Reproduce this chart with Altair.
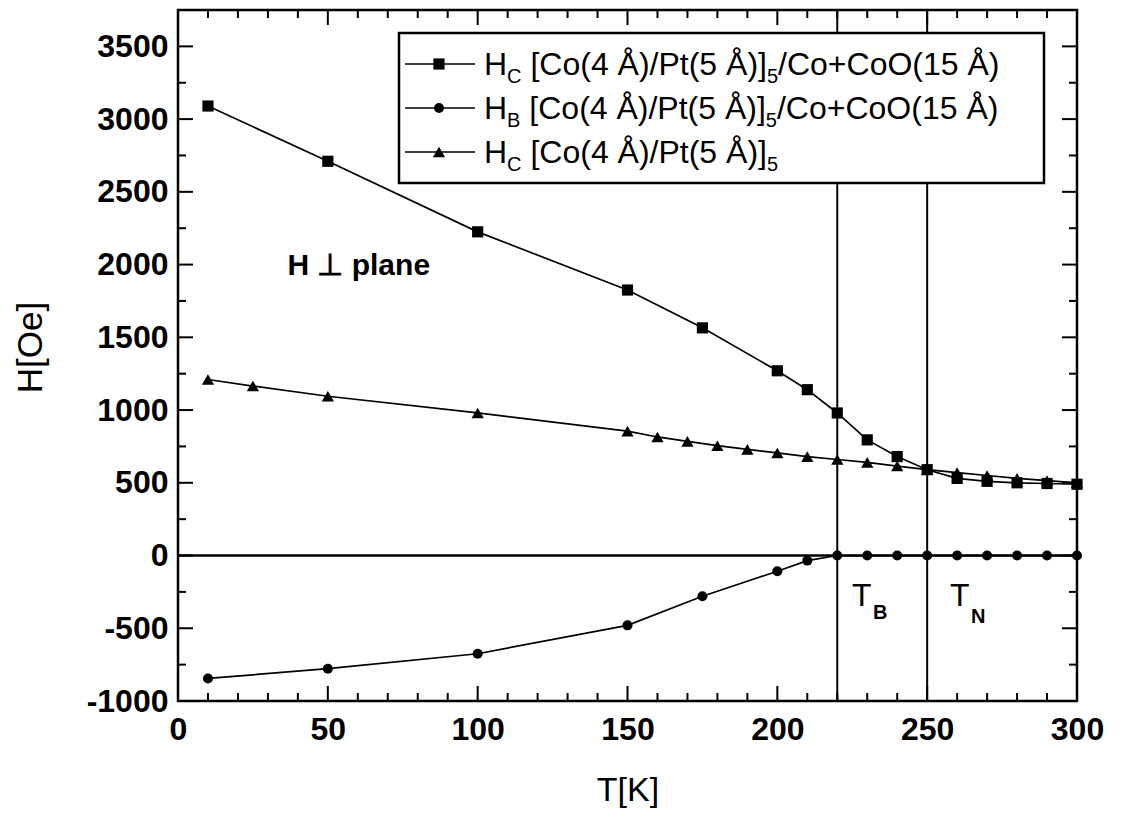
import altair as alt
import pandas as pd

# ---------------- data ----------------
T_HC_COO = [10, 50, 100, 150, 175, 200, 210, 220, 230, 240, 250, 260, 270, 280, 290, 300]
H_HC_COO = [3090, 2710, 2225, 1825, 1565, 1270, 1140, 980, 795, 680, 590, 530, 510, 500, 495, 490]

T_HB_COO = [10, 50, 100, 150, 175, 200, 210, 220, 230, 240, 250, 260, 270, 280, 290, 300]
H_HB_COO = [-845, -778, -675, -480, -280, -108, -35, 0, 0, 0, 0, 0, 0, 0, 0, 0]

T_HC_ML = [10, 25, 50, 100, 150, 160, 170, 180, 190, 200, 210, 220, 230, 240, 250, 260, 270, 280, 290, 300]
H_HC_ML = [1210, 1165, 1095, 980, 855, 815, 785, 755, 730, 705, 680, 660, 640, 615, 590, 570, 550, 530, 515, 500]

T_MARKERS = [220, 250]          # T_B and T_N vertical lines

X_LABELS = [0, 50, 100, 150, 200, 250, 300]
X_MINOR = [10, 20, 30, 40, 60, 70, 80, 90, 110, 120, 130, 140, 160, 170, 180, 190,
           210, 220, 230, 240, 260, 270, 280, 290]
Y_LABELS = [-1000, -500, 0, 500, 1000, 1500, 2000, 2500, 3000, 3500]
Y_MINOR = [-750, -250, 250, 750, 1250, 1750, 2250, 2750, 3250]

# ---------------- layout ----------------
W, HGT = 899, 691
FONT = "Liberation Sans"
MAJ, MIN = 15, 8

xs = alt.Scale(domain=[0, 300], nice=False, zero=False)
ys = alt.Scale(domain=[-1000, 3750], nice=False, zero=False)

x_axis = alt.Axis(values=X_LABELS, title="T[K]", ticks=False, domain=False, grid=False,
                  labelFlush=False, labelFont=FONT, labelFontSize=32, labelFontWeight="bold",
                  labelColor="black", labelPadding=13, titleFont=FONT, titleFontSize=34,
                  titleFontWeight="normal", titleColor="black", titleY=89,
                  titleBaseline="middle", labelExpr="toString(datum.value)")
y_axis = alt.Axis(values=Y_LABELS, title="H[Oe]", ticks=False, domain=False, grid=False,
                  labelFlush=False, labelFont=FONT, labelFontSize=32, labelFontWeight="bold",
                  labelColor="black", labelPadding=10, titleFont=FONT, titleFontSize=35,
                  titleFontWeight="normal", titleColor="black", titleX=-148, titleY=337,
                  titleBaseline="middle", titleAlign="center", labelExpr="toString(datum.value)")


def xe(f="T"):
    return alt.X(f"{f}:Q", scale=xs, axis=x_axis)


def ye(f="H"):
    return alt.Y(f"{f}:Q", scale=ys, axis=y_axis)


layers = []

# zero line and T_B / T_N lines
layers.append(alt.Chart(pd.DataFrame({"H": [0]})).mark_rule(color="black", strokeWidth=2.5)
              .encode(y=ye()))
layers.append(alt.Chart(pd.DataFrame({"T": T_MARKERS})).mark_rule(color="black", strokeWidth=2)
              .encode(x=xe()))

# series
SQ, CI, TR = 125, 100, 150
series = [
    (T_HC_COO, H_HC_COO, "square", SQ),
    (T_HB_COO, H_HB_COO, "circle", CI),
    (T_HC_ML, H_HC_ML, "triangle-up", TR),
]
for T, Hv, shape, size in series:
    d = pd.DataFrame({"T": T, "H": Hv})
    base = alt.Chart(d)
    layers.append(base.mark_line(color="black", strokeWidth=1.7).encode(x=xe(), y=ye()))
    layers.append(base.mark_point(shape=shape, size=size, filled=True, color="black", opacity=1)
                  .encode(x=xe(), y=ye()))

# inward ticks on all four sides
for vals, ln in ((X_LABELS, MAJ), (X_MINOR, MIN)):
    d = alt.Chart(pd.DataFrame({"T": vals}))
    layers.append(d.mark_rule(color="black", strokeWidth=2)
                  .encode(x=xe(), y=alt.value(HGT), y2=alt.value(HGT - ln)))
    layers.append(d.mark_rule(color="black", strokeWidth=2)
                  .encode(x=xe(), y=alt.value(0), y2=alt.value(ln)))
for vals, ln in ((Y_LABELS, MAJ), (Y_MINOR, MIN)):
    d = alt.Chart(pd.DataFrame({"H": vals}))
    layers.append(d.mark_rule(color="black", strokeWidth=2)
                  .encode(y=ye(), x=alt.value(0), x2=alt.value(ln)))
    layers.append(d.mark_rule(color="black", strokeWidth=2)
                  .encode(y=ye(), x=alt.value(W), x2=alt.value(W - ln)))

one = pd.DataFrame({"a": [0]})

# legend box
layers.append(alt.Chart(one).mark_rect(fill="white", stroke="black", strokeWidth=2.5)
              .encode(x=alt.value(221), x2=alt.value(866), y=alt.value(23), y2=alt.value(173)))

# Arial / Liberation Sans advance widths (per 1000 em)
AW = {" ": 278, "(": 333, ")": 333, "+": 584, "/": 278, "[": 278, "]": 278, "Å": 667,
      "A": 667, "B": 667, "C": 722, "H": 722, "N": 722, "O": 778, "P": 667, "T": 611,
      "e": 556, "o": 556, "t": 278}


def tw(s, size):
    return sum(AW.get(c, 556) for c in s) * size / 1000.0


FS, SFS = 32, 20
rows = [
    ("square", SQ, [("H", 0, 0), ("C", 1, 0), ("[Co(4 Å)/Pt(5 Å)]", 0, 1), ("5", 1, 0), ("/Co+CoO(15 Å)", 0, 0)]),
    ("circle", CI, [("H", 0, 0), ("B", 1, 0), ("[Co(4 Å)/Pt(5 Å)]", 0, 1), ("5", 1, 0), ("/Co+CoO(15 Å)", 0, 0)]),
    ("triangle-up", TR, [("H", 0, 0), ("C", 1, 0), ("[Co(4 Å)/Pt(5 Å)]", 0, 1), ("5", 1, 0)]),
]
row_y = [54, 98, 142]
for (shape, size, pieces), cy in zip(rows, row_y):
    layers.append(alt.Chart(one).mark_rule(color="black", strokeWidth=1.7)
                  .encode(x=alt.value(227), x2=alt.value(297), y=alt.value(cy)))
    layers.append(alt.Chart(one).mark_point(shape=shape, size=size, filled=True, color="black", opacity=1)
                  .encode(x=alt.value(261), y=alt.value(cy)))
    px = 306.0
    for txt, sub, lead_space in pieces:
        fs = SFS if sub else FS
        if lead_space:
            px += tw(" ", fs)
        by = cy + 11 + (8 if sub else 0)
        layers.append(alt.Chart(one).mark_text(font=FONT, fontSize=fs, align="left",
                                               baseline="alphabetic", color="black")
                      .encode(x=alt.value(px), y=alt.value(by), text=alt.value(txt)))
        px += tw(txt, fs)

# annotations
layers.append(alt.Chart(one).mark_text(font=FONT, fontSize=30, fontWeight="bold", align="left",
                                       baseline="middle", color="black")
              .encode(x=alt.datum(36.5), y=alt.datum(1990), text=alt.value("H ⊥ plane")))
for tx, sx, sub, sby in ((674, 695, "B", 609), (772, 793, "N", 613)):
    layers.append(alt.Chart(one).mark_text(font=FONT, fontSize=32, align="left",
                                           baseline="alphabetic", color="black")
                  .encode(x=alt.value(tx), y=alt.value(596), text=alt.value("T")))
    layers.append(alt.Chart(one).mark_text(font=FONT, fontSize=20, fontWeight="bold", align="left",
                                           baseline="alphabetic", color="black")
                  .encode(x=alt.value(sx), y=alt.value(sby), text=alt.value(sub)))

chart = alt.layer(*layers).properties(
    width=W, height=HGT,
    autosize=alt.AutoSizeParams(type="none"),
    padding={"left": 170, "top": 2, "right": 36, "bottom": 116},
).configure_view(stroke="black", strokeWidth=2.5)

chart.save("out.html", embed_options={"renderer": "svg", "actions": False})
